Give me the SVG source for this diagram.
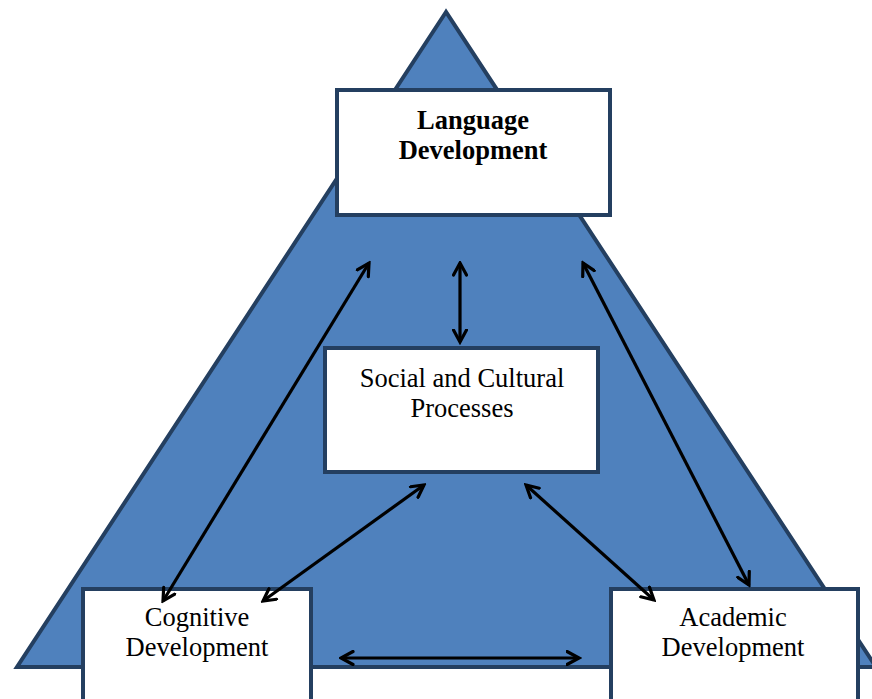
<svg xmlns="http://www.w3.org/2000/svg" width="872" height="699" viewBox="0 0 872 699">
<style>
.box{fill:#fff;stroke:#243F60;stroke-width:4}
.t{font-family:"Liberation Serif","Times New Roman",serif;font-size:26.5px;fill:#000;text-anchor:middle}
.b{font-weight:bold}
.c{stroke:#000;stroke-width:3.2;fill:none;marker-start:url(#ah);marker-end:url(#ah)}
</style>
<defs>
<marker id="ah" viewBox="0 0 16 16" refX="13.5" refY="8" markerWidth="16" markerHeight="16" markerUnits="userSpaceOnUse" orient="auto-start-reverse">
<path d="M1.5,1.5 L13.5,8 L1.5,14.5" fill="none" stroke="#000" stroke-width="3.2" stroke-linecap="round" stroke-linejoin="miter"/>
</marker>
</defs>
<g id="triangle">
<polygon points="446,12 17,667 876,667" fill="#4F81BD" stroke="#243F60" stroke-width="4" stroke-linejoin="miter"/>
</g>
<g id="language">
<rect class="box" x="337" y="90" width="273" height="125"/>
<text class="t b" x="473" y="129">Language</text>
<text class="t b" x="473" y="159">Development</text>
</g>
<g id="social">
<rect class="box" x="325" y="348" width="273" height="124"/>
<text class="t" x="462" y="387">Social and Cultural</text>
<text class="t" x="462" y="417">Processes</text>
</g>
<g id="cognitive">
<rect class="box" x="83" y="589" width="228" height="130"/>
<text class="t" x="197" y="626">Cognitive</text>
<text class="t" x="197" y="656">Development</text>
</g>
<g id="academic">
<rect class="box" x="611" y="589" width="247" height="130"/>
<text class="t" x="733" y="626">Academic</text>
<text class="t" x="733" y="656">Development</text>
</g>
<g id="connectors">
<line class="c" x1="369" y1="263" x2="163" y2="601"/>
<line class="c" x1="460" y1="263" x2="460" y2="342"/>
<line class="c" x1="583" y1="263" x2="749" y2="585"/>
<line class="c" x1="424" y1="485" x2="263" y2="601"/>
<line class="c" x1="526" y1="485" x2="654" y2="600"/>
<line class="c" x1="341" y1="658" x2="579" y2="658"/>
</g>
</svg>
